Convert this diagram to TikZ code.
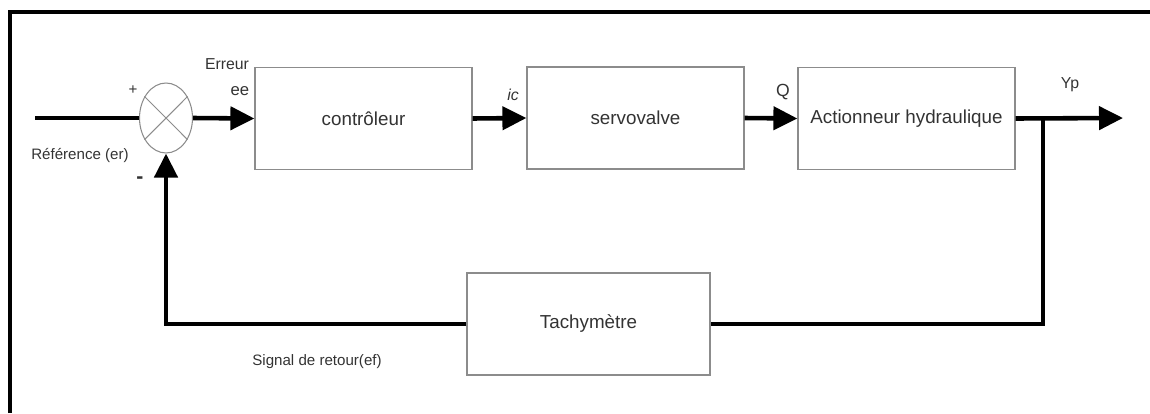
\documentclass[tikz,border=0pt]{standalone}
\usepackage{fontspec}
\setmainfont{Liberation Sans}
\usetikzlibrary{positioning, arrows.meta, shapes.geometric, calc}
\definecolor{BoxLine}{HTML}{8C8C8C}
\definecolor{TextGray}{HTML}{333333}
\tikzset{
  blk/.style={draw=BoxLine, line width=0.7pt, align=center, text=TextGray,
              font=\fontsize{10.7}{12}\selectfont, minimum width=4.34cm,
              minimum height=2.04cm, inner sep=2pt},
  sumnode/.style={ellipse, draw=BoxLine, line width=0.6pt,
                  minimum width=1.06cm, minimum height=1.4cm, inner sep=0pt},
  sig/.style={line width=2.6pt, black},
  sigarr/.style={sig, -{Triangle[length=0.48cm, width=0.46cm]}},
  lbl/.style={font=\fontsize{8.6}{10}\selectfont, text=TextGray, inner sep=1pt},
  frame/.style={line width=2.4pt, black},
}
\begin{document}
\begin{tikzpicture}[x=0.02cm, y=-0.02cm]
  \useasboundingbox (0,0) rectangle (1150,413);
  % frame
  \draw[frame] (10,413) -- (10,12) -- (1150,12);
  % blocks
  \node[sumnode] (sum) at (166,118) {};
  \draw[BoxLine, line width=0.6pt] (sum.45) -- (sum.225) (sum.135) -- (sum.315);
  \node[blk] (ctrl) at (363.5,118.5) {contrôleur};
  \node[blk] (servo) at (635.5,118) {servovalve};
  \node[blk] (act) at (906.5,118.5) {Actionneur hydraulique};
  \node[blk, minimum width=4.86cm] (tach) at (588.5,324) {Tachymètre};
  \coordinate (in) at (35,118);
  \coordinate (out) at (1123,118);
  \coordinate (branch) at (1043,118);
  % signals
  \draw[sig] (in) -- (sum.west);
  \draw[sigarr] (sum.east) -- (ctrl.west);
  \draw[sigarr] (ctrl.east) -- (servo.west);
  \draw[sigarr] (servo.east) -- (act.west);
  \draw[sigarr] (act.east) -- (out);
  \draw[sig] (branch) |- (tach.east);
  \draw[sigarr] (tach.west) -| (sum.south);
  % labels
  \node[lbl] (plus) at (133,90) {+};
  \node[lbl, font=\fontsize{12}{12}\selectfont\bfseries] (minus) at (140,180) {-};
  \node[lbl] (ref) at (80,155) {Référence (er)};
  \node[lbl, font=\fontsize{9}{11}\selectfont] (err) at (227,64) {Erreur};
  \node[lbl, font=\fontsize{9.5}{11}\selectfont] (ee) at (240,91) {ee};
  \node[lbl, font=\fontsize{9}{10}\selectfont\itshape] (ic) at (513,95) {ic};
  \node[lbl, font=\fontsize{10}{11}\selectfont] (q) at (783,92) {Q};
  \node[lbl, font=\fontsize{9}{10}\selectfont] (yp) at (1070,85) {Yp};
  \node[lbl] (ret) at (317,362) {Signal de retour(ef)};
\end{tikzpicture}
\end{document}
